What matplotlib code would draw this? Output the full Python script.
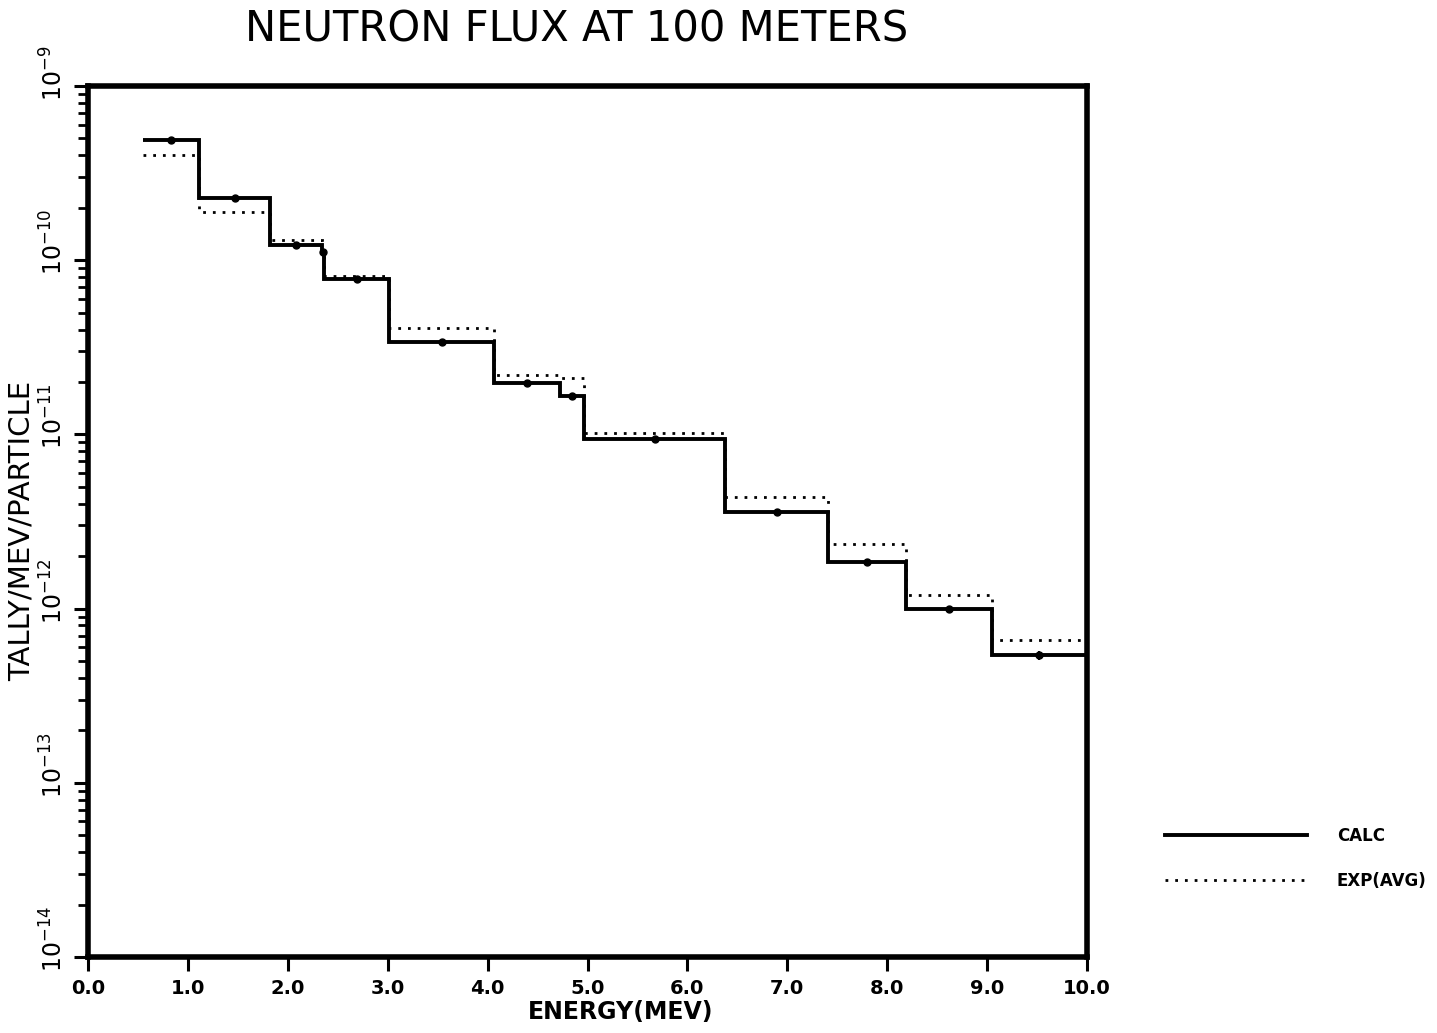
import matplotlib
matplotlib.use("Agg")
import matplotlib.pyplot as plt
import matplotlib.transforms as mtransforms
import numpy as np
from matplotlib.lines import Line2D

# ---- data ----
edges = [0.5502, 1.1080, 1.8268, 2.3457, 2.3653, 3.0119, 4.0657, 4.7237,
         4.9659, 6.3763, 7.4082, 8.1873, 9.0484, 10.0]
calc = [4.93e-10, 2.27e-10, 1.22e-10, 1.12e-10, 7.8e-11, 3.39e-11, 1.97e-11,
        1.67e-11, 9.4e-12, 3.6e-12, 1.85e-12, 1.0e-12, 5.4e-13]
calc_err = [0.02, 0.02, 0.02, 0.04, 0.02, 0.02, 0.02, 0.03, 0.02, 0.02,
            0.02, 0.03, 0.06]  # relative
exp_avg = [4.0e-10, 1.88e-10, 1.31e-10, 1.15e-10, 8.1e-11, 4.08e-11, 2.2e-11,
           2.11e-11, 1.02e-11, 4.4e-12, 2.35e-12, 1.2e-12, 6.6e-13]
xticks = [0, 1, 2, 3, 4, 5, 6, 7, 8, 9, 10]
yticks_exp = [-14, -13, -12, -11, -10, -9]

plt.rcParams['font.family'] = ['DejaVu Sans']

fig = plt.figure(figsize=(14.37, 10.33), dpi=100)
ax = fig.add_axes([88/1437, 1-957/1033, (1087-88)/1437, (957-86)/1033])

ax.stairs(calc, edges, color='black', lw=2.8, label='CALC', baseline=None)
ax.stairs(exp_avg, edges, color='black', lw=2.0, linestyle=(0, (1, 2.5)),
          label='EXP(AVG)', baseline=None)

mids = 0.5 * (np.array(edges[:-1]) + np.array(edges[1:]))
cvals = np.array(calc)
ax.errorbar(mids, cvals, yerr=cvals * np.array(calc_err), fmt='o',
            color='black', ms=5, elinewidth=1.5, capsize=0)

ax.set_yscale('log')
ax.set_xlim(0, 10)
ax.set_ylim(1e-14, 1e-9)

ax.set_xticks(xticks)
ax.set_xticklabels([f"{v:.1f}" for v in xticks], fontsize=14, fontweight='bold')
ax.set_yticks([10.0**e for e in yticks_exp])
ax.set_yticklabels([])
ax.yaxis.set_minor_locator(matplotlib.ticker.LogLocator(base=10, subs=np.arange(2, 10)))
ax.yaxis.set_minor_formatter(matplotlib.ticker.NullFormatter())
ax.xaxis.set_minor_locator(matplotlib.ticker.NullLocator())

# y tick labels: "10" centred on the tick, exponent above it (rotated)
ytrans = (mtransforms.blended_transform_factory(ax.transAxes, ax.transData)
          + mtransforms.ScaledTranslation(-20/100, -15/100, fig.dpi_scale_trans))
for e in yticks_exp:
    ax.text(0, 10.0**e, rf"$10^{{{e}}}$", transform=ytrans, rotation=90,
            ha='right', va='bottom', fontsize=17, clip_on=False)

ax.tick_params(axis='both', which='major', direction='out', length=10, width=2.2,
               top=False, right=False)
ax.tick_params(axis='y', which='minor', direction='out', length=7, width=2,
               right=False)
ax.tick_params(axis='x', pad=6)

for s in ax.spines.values():
    s.set_linewidth(4)

ax.set_xlabel('ENERGY(MEV)', fontsize=17, fontweight='bold')
ax.xaxis.set_label_coords((621-88)/999, -(1000-957)/871)
ax.xaxis.label.set_va('top')
ax.set_ylabel('TALLY/MEV/PARTICLE', fontsize=21)
ax.yaxis.set_label_coords((36-88)/999, (957-531)/871)

fig.text(577/1437, 1-8/1033, 'NEUTRON FLUX AT 100 METERS', ha='center',
         va='top', fontsize=30)

handles = [Line2D([], [], color='black', lw=2.8),
           Line2D([], [], color='black', lw=2.0, linestyle=(0, (1, 2.5)))]
fig.legend(handles, ['CALC', 'EXP(AVG)'], loc='upper left',
           bbox_to_anchor=(1150/1437, 1-812/1033), frameon=False,
           prop={'size': 12, 'weight': 'bold'}, handlelength=8.5,
           handletextpad=1.8, labelspacing=1.6)

fig.savefig('out.png', dpi=100)
